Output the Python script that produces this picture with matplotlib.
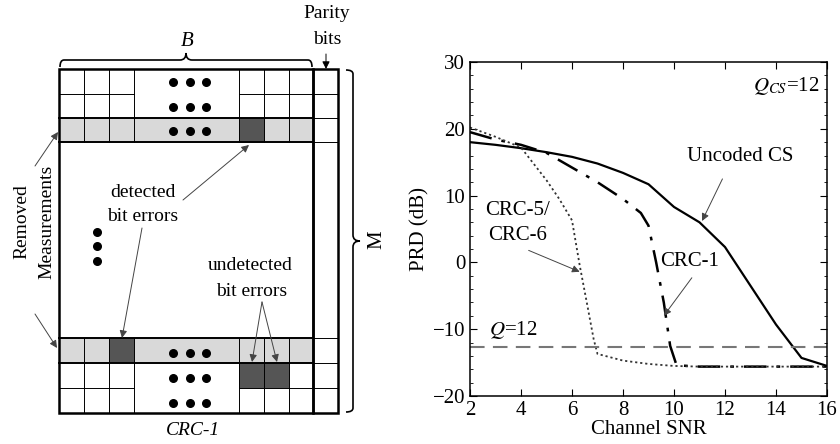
import numpy as np
import matplotlib
matplotlib.use("Agg")
import matplotlib.pyplot as plt
from matplotlib.patches import Rectangle, FancyArrowPatch
from matplotlib.path import Path
from matplotlib.patches import PathPatch
from matplotlib.ticker import MultipleLocator

plt.rcParams['font.family'] = ['Liberation Serif', 'DejaVu Serif']
plt.rcParams['mathtext.fontset'] = 'stix'

# ---- data ----
snr_uncoded = [2, 3, 4, 5, 6, 7, 8, 9, 10, 11, 12, 13, 14, 15, 16]
prd_uncoded = [18.0, 17.6, 17.1, 16.5, 15.8, 14.8, 13.4, 11.7, 8.3, 6.0, 2.3, -3.5, -9.3, -14.3, -15.5]

snr_crc1 = [2, 3, 4, 5, 6, 7, 8, 8.7, 9.0, 9.3, 9.6, 9.85, 10.1, 11, 12, 13, 14, 15, 16]
prd_crc1 = [19.5, 18.4, 17.6, 16.4, 14.2, 12.0, 9.5, 7.4, 5.5, 0.0, -6.0, -12.5, -15.4, -15.6, -15.6, -15.6, -15.6, -15.6, -15.6]

snr_crc56 = [2, 3, 4, 5, 5.5, 6, 6.3, 6.6, 6.85, 7, 8, 9, 10, 11, 12, 13, 14, 15, 16]
prd_crc56 = [20.2, 18.8, 17.2, 12.3, 9.5, 6.3, -0.4, -6.4, -11.5, -13.7, -14.7, -15.2, -15.5, -15.6, -15.6, -15.6, -15.6, -15.6, -15.6]

q_level = -12.7
x_ticks = [2, 4, 6, 8, 10, 12, 14, 16]
y_ticks = [-20, -10, 0, 10, 20, 30]

fig = plt.figure(figsize=(8.4, 4.44), dpi=100)

# ---- left diagram drawn in pixel coordinates ----
d = fig.add_axes([0, 0, 1, 1])
d.set_xlim(0, 840)
d.set_ylim(444, 0)
d.axis('off')

shade = '#d9d9d9'
dark = '#555555'
thin = 0.7
thick = 1.8

cols_l = [59, 84, 109, 134]
cols_r = [239, 264, 289, 313]

def cell_lines(y0, y1):
    for c in cols_l[1:] + cols_r[:-1]:
        d.plot([c, c], [y0, y1], color='k', lw=thin)

# shaded rows
for y0 in [118, 338]:
    d.add_patch(Rectangle((59, y0), 254, 24.5, facecolor=shade, edgecolor='none'))
# dark cells
for (x0, y0) in [(239, 118), (109, 338), (239, 363), (264, 363)]:
    d.add_patch(Rectangle((x0, y0), 25, 25, facecolor=dark, edgecolor='none'))

# grid lines in top & bottom blocks
cell_lines(69, 142)
cell_lines(338, 413)
for y in [94, 388]:
    d.plot([59, 134], [y, y], color='k', lw=thin)
    d.plot([239, 313], [y, y], color='k', lw=thin)
for y in [118, 142, 338, 363]:
    d.plot([59, 313], [y, y], color='k', lw=1.4)

# parity column
for y in [94, 118, 142, 338, 363, 388]:
    d.plot([313, 338], [y, y], color='k', lw=thin)
d.add_patch(Rectangle((313, 69), 25, 344, facecolor='none', edgecolor='k', lw=thick))
d.add_patch(Rectangle((59, 69), 254, 344, facecolor='none', edgecolor='k', lw=thick))

# dots
for y in [82, 107, 131, 353, 378, 403]:
    d.scatter([173, 190, 206], [y] * 3, s=30, color='k', zorder=5)
d.scatter([97, 97, 97], [232, 246, 261], s=30, color='k', zorder=5)

# braces
def brace_h(x0, x1, y, h):
    xm = (x0 + x1) / 2
    verts = [(x0, y), (x0, y - h), (x0 + 4, y - h), (xm - 6, y - h), (xm, y - h), (xm, y - 2 * h),
             (xm, y - h), (xm + 6, y - h), (x1 - 4, y - h), (x1, y - h), (x1, y)]
    codes = [Path.MOVETO, Path.CURVE3, Path.CURVE3, Path.LINETO, Path.CURVE3, Path.CURVE3,
             Path.CURVE3, Path.CURVE3, Path.LINETO, Path.CURVE3, Path.CURVE3]
    d.add_patch(PathPatch(Path(verts, codes), facecolor='none', edgecolor='k', lw=1.2))

def brace_v(y0, y1, x, w):
    ym = (y0 + y1) / 2
    verts = [(x, y0), (x + w, y0), (x + w, y0 + 4), (x + w, ym - 6), (x + w, ym), (x + 2 * w, ym),
             (x + w, ym), (x + w, ym + 6), (x + w, y1 - 4), (x + w, y1), (x, y1)]
    codes = [Path.MOVETO, Path.CURVE3, Path.CURVE3, Path.LINETO, Path.CURVE3, Path.CURVE3,
             Path.CURVE3, Path.CURVE3, Path.LINETO, Path.CURVE3, Path.CURVE3]
    d.add_patch(PathPatch(Path(verts, codes), facecolor='none', edgecolor='k', lw=1.2))

brace_h(60, 312, 67, 7)
brace_v(70, 412, 346, 7)

d.text(187, 42, 'B', style='italic', fontsize=15, ha='center', va='center')
d.text(327, 14, 'Parity', fontsize=14, ha='center', va='center')
d.text(327, 40, 'bits', fontsize=14, ha='center', va='center')
d.text(377, 240, 'M', fontsize=15, ha='center', va='center', rotation=90)
d.text(22, 222, 'Removed', fontsize=14, ha='center', va='center', rotation=90)
d.text(47, 222, 'Measurements', fontsize=14, ha='center', va='center', rotation=90)
d.text(143, 192, 'detected', fontsize=14, ha='center', va='center')
d.text(143, 216, 'bit errors', fontsize=14, ha='center', va='center')
d.text(250, 265, 'undetected', fontsize=14, ha='center', va='center')
d.text(252, 291, 'bit errors', fontsize=14, ha='center', va='center')
d.text(193, 430, 'CRC-1', style='italic', fontsize=14, ha='center', va='center')

def arrow(ax, p0, p1, lw=0.7, color='#444444'):
    ax.annotate('', xy=p1, xytext=p0,
                arrowprops=dict(arrowstyle='-|>', color=color, lw=lw, mutation_scale=11,
                                shrinkA=0, shrinkB=0))

arrow(d, (326, 54), (326, 69), color='k')
arrow(d, (35, 166), (58, 132))
arrow(d, (35, 314), (57, 348))
arrow(d, (183, 200), (249, 145))
arrow(d, (142, 228), (122, 338))
arrow(d, (262, 302), (252, 362))
arrow(d, (262, 302), (277, 362))

# ---- right chart ----
ax = fig.add_axes([470 / 840, (444 - 396) / 444, 357 / 840, 334 / 444])
ax.plot(snr_uncoded, prd_uncoded, color='k', lw=1.6)
ax.plot(snr_crc1, prd_crc1, color='k', lw=1.8, dashes=(9, 4, 1.5, 4))
ax.plot(snr_crc56, prd_crc56, color='#333333', lw=1.3, dashes=(1.2, 1.6))
ax.axhline(q_level, color='#777777', lw=1.5, dashes=(7, 4))

ax.set_xlim(2, 16)
ax.set_ylim(-20, 30)
ax.set_xticks(x_ticks)
ax.set_yticks(y_ticks)
ax.yaxis.set_minor_locator(MultipleLocator(2))
ax.tick_params(which='both', direction='in', top=True, right=True, labelsize=15)
ax.tick_params(which='major', length=5)
ax.tick_params(which='minor', length=2)
for s in ax.spines.values():
    s.set_linewidth(1.1)
ax.set_xlabel('Channel SNR', fontsize=15, labelpad=0)
ax.set_ylabel('PRD (dB)', fontsize=15, labelpad=2)

ax.text(15.7, 26.4, r'$Q_{CS}$=12', fontsize=15, ha='right', va='center')
ax.text(12.6, 15.8, 'Uncoded CS', fontsize=15, ha='center', va='center')
arrow(ax, (11.9, 12.5), (11.1, 6.2))
ax.text(3.85, 7.8, 'CRC-5/', fontsize=15, ha='center', va='center')
ax.text(3.85, 4.0, 'CRC-6', fontsize=15, ha='center', va='center')
arrow(ax, (4.3, 1.8), (6.3, -1.4))
ax.text(10.6, 0.2, 'CRC-1', fontsize=15, ha='center', va='center')
arrow(ax, (10.7, -2.3), (9.6, -8.0))
ax.text(3.7, -10.1, r'$Q$=12', fontsize=15, ha='center', va='center')

fig.savefig('out.png', dpi=100)
